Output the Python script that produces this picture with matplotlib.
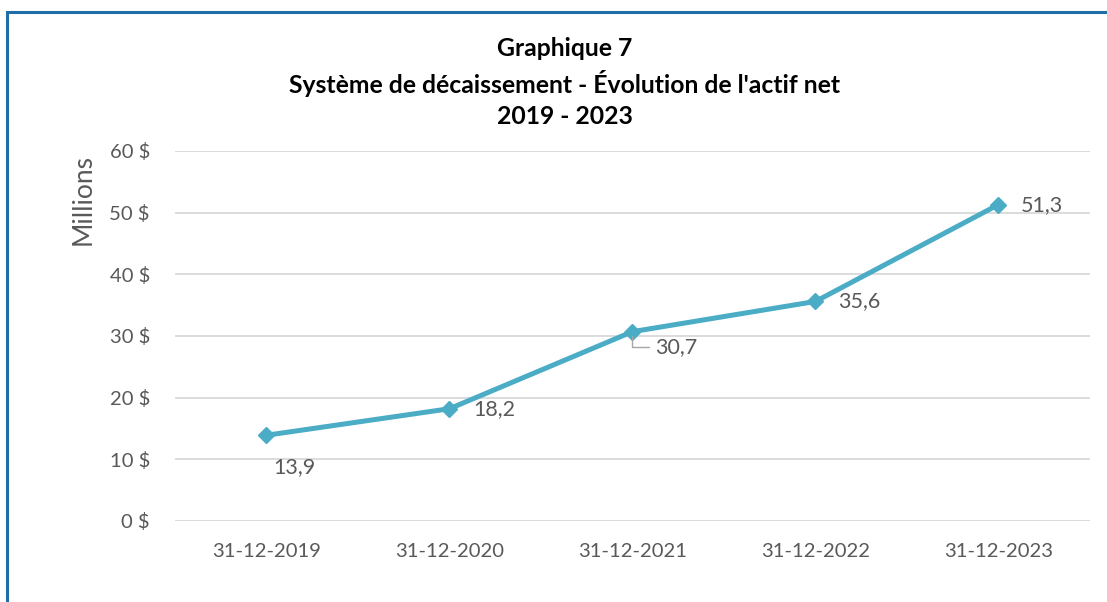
import matplotlib.pyplot as plt
from matplotlib.patches import Rectangle

# data
dates = ['31-12-2019', '31-12-2020', '31-12-2021', '31-12-2022', '31-12-2023']
actif_net = [13.9, 18.2, 30.7, 35.6, 51.3]
label_offsets = [(5, -23), (17, 0), (16, -11), (16, 0), (16, 0)]  # points

plt.rcParams['font.family'] = ['Lato', 'DejaVu Sans']
grey = '#595959'
line_col = '#4BACC6'

fig = plt.figure(figsize=(11.07, 6.02), dpi=100)
ax = fig.add_axes([0.158, 0.1346, 0.8266, 0.6146])

x = list(range(len(dates)))
ax.plot(x, actif_net, color=line_col, lw=3.6, marker='D', ms=8.5,
        mfc=line_col, mec=line_col, zorder=3)

for i, v in enumerate(actif_net):
    dx, dy = label_offsets[i]
    lbl = f'{v:.1f}'.replace('.', ',')
    if i == 2:
        ax.annotate(lbl, (i, v), xytext=(dx, dy), textcoords='offset points',
                    ha='left', va='center', fontsize=15.5, color=grey,
                    arrowprops=dict(arrowstyle='-', color='#a6a6a6', lw=1,
                                    shrinkA=2, shrinkB=3,
                                    connectionstyle='angle,angleA=0,angleB=90,rad=0'))
    else:
        ax.annotate(lbl, (i, v), xytext=(dx, dy), textcoords='offset points',
                    ha='left', va='center', fontsize=15.5, color=grey)

ax.set_xlim(-0.5, 4.5)
ax.set_ylim(0, 60)
ax.set_yticks(range(0, 61, 10))
ax.set_yticklabels([f'{t} $' for t in range(0, 61, 10)])
ax.set_xticks(x)
ax.set_xticklabels(dates)
ax.tick_params(length=0, labelsize=14.6, labelcolor=grey, pad=18)
ax.tick_params(axis='x', pad=16)
ax.grid(axis='y', color='#d9d9d9', lw=1.3)
ax.set_axisbelow(True)
for s in ax.spines.values():
    s.set_visible(False)

fig.text(0.075, 0.668, 'Millions', rotation=90, ha='center', va='center',
         fontsize=19, color=grey)

fig.text(0.51, 0.919, 'Graphique 7', ha='center', va='center',
         fontsize=17.8, fontweight='bold', color='black')
fig.text(0.51, 0.862, "Système de décaissement - Évolution de l'actif net",
         ha='center', va='center', fontsize=17.8, fontweight='bold', color='black')
fig.text(0.51, 0.806, '2019 - 2023', ha='center', va='center',
         fontsize=17.8, fontweight='bold', color='black')

# frame (left and top visible)
fig.add_artist(Rectangle((0.0065, -0.05), 1.1, 1.03, transform=fig.transFigure,
                         fill=False, ec='#1f6fa6', lw=2.2))

fig.savefig('out.png', dpi=100)
